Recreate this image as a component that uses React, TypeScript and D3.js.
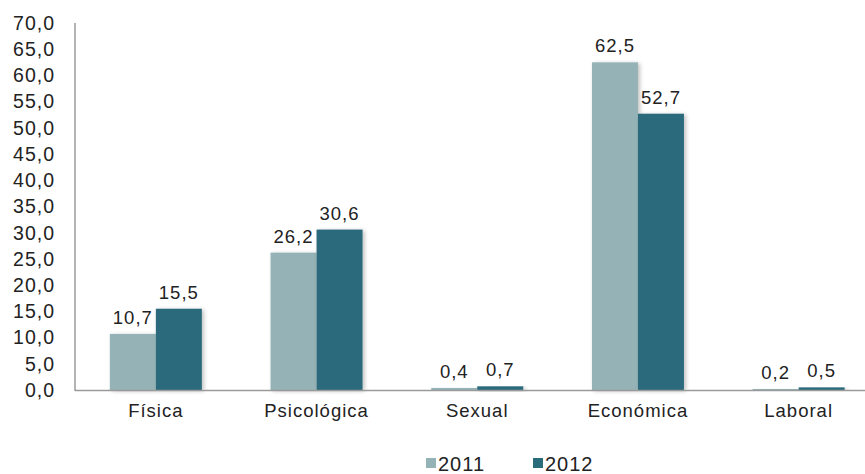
import React from "react";
import * as d3 from "d3";

const categories = ["Física", "Psicológica", "Sexual", "Económica", "Laboral"];
const series = ["2011", "2012"];
const values2011 = [10.7, 26.2, 0.4, 62.5, 0.2];
const values2012 = [15.5, 30.6, 0.7, 52.7, 0.5];
const yTicks = [0, 5, 10, 15, 20, 25, 30, 35, 40, 45, 50, 55, 60, 65, 70];
const colors = ["#95b3b6", "#2a6b7c"];

const W = 865;
const H = 474;
const fmt = (v: number) => v.toFixed(1).replace(".", ",");

export default function App() {
  const x0 = d3.scaleBand<string>().domain(categories).range([75.5, 879]).paddingInner(0).paddingOuter(0);
  const y = d3.scaleLinear().domain([0, 70]).range([390, 23]);
  const groupW = 92;
  const x1 = d3.scaleBand<string>().domain(series).range([0, groupW]);
  const data = [values2011, values2012];
  const font = "'Liberation Sans', Arial, sans-serif";
  return (
    <svg width={W} height={H} style={{ position: "absolute", left: 0, top: 0, fontFamily: font }}>
      <defs>
        <filter id="sh" x="-20%" y="-20%" width="150%" height="150%">
          <feGaussianBlur in="SourceAlpha" stdDeviation="2" />
          <feOffset dx="2" dy="1" result="b" />
          <feComponentTransfer><feFuncA type="linear" slope="0.25" /></feComponentTransfer>
          <feMerge><feMergeNode /><feMergeNode in="SourceGraphic" /></feMerge>
        </filter>
      </defs>
      {yTicks.map((t) => (
        <text key={t} x={55} y={y(t)} dy="0.35em" textAnchor="end" fontSize={19.5} fill="#222" letterSpacing={1}>
          {fmt(t)}
        </text>
      ))}
      {categories.map((c, i) => {
        const gx = x0(c)! + (x0.bandwidth() - groupW) / 2;
        return (
          <g key={c}>
            {series.map((s, j) => {
              const v = data[j][i];
              const bx = gx + x1(s)!;
              return (
                <g key={s}>
                  <rect x={bx} y={y(v)} width={x1.bandwidth()} height={y(0) - y(v)} fill={colors[j]} filter="url(#sh)" />
                  <text x={bx + x1.bandwidth() / 2} y={y(v) - 10} textAnchor="middle" fontSize={18.5} fill="#222" letterSpacing={1}>
                    {fmt(v)}
                  </text>
                </g>
              );
            })}
            <text x={x0(c)! + x0.bandwidth() / 2} y={417} textAnchor="middle" fontSize={18.5} fill="#222" letterSpacing={1}>
              {c}
            </text>
          </g>
        );
      })}
      <line x1={75} x2={W} y1={390.5} y2={390.5} stroke="#9a9a9a" strokeWidth={1.5} />
      <line x1={75} x2={75} y1={23} y2={391} stroke="#9a9a9a" strokeWidth={1.5} />
      {series.map((s, j) => (
        <g key={s} transform={`translate(${[426, 533][j]},0)`}>
          <rect x={0} y={458} width={10} height={10} fill={colors[j]} />
          <text x={12} y={471} fontSize={20} fill="#222" letterSpacing={1}>{s}</text>
        </g>
      ))}
    </svg>
  );
}
